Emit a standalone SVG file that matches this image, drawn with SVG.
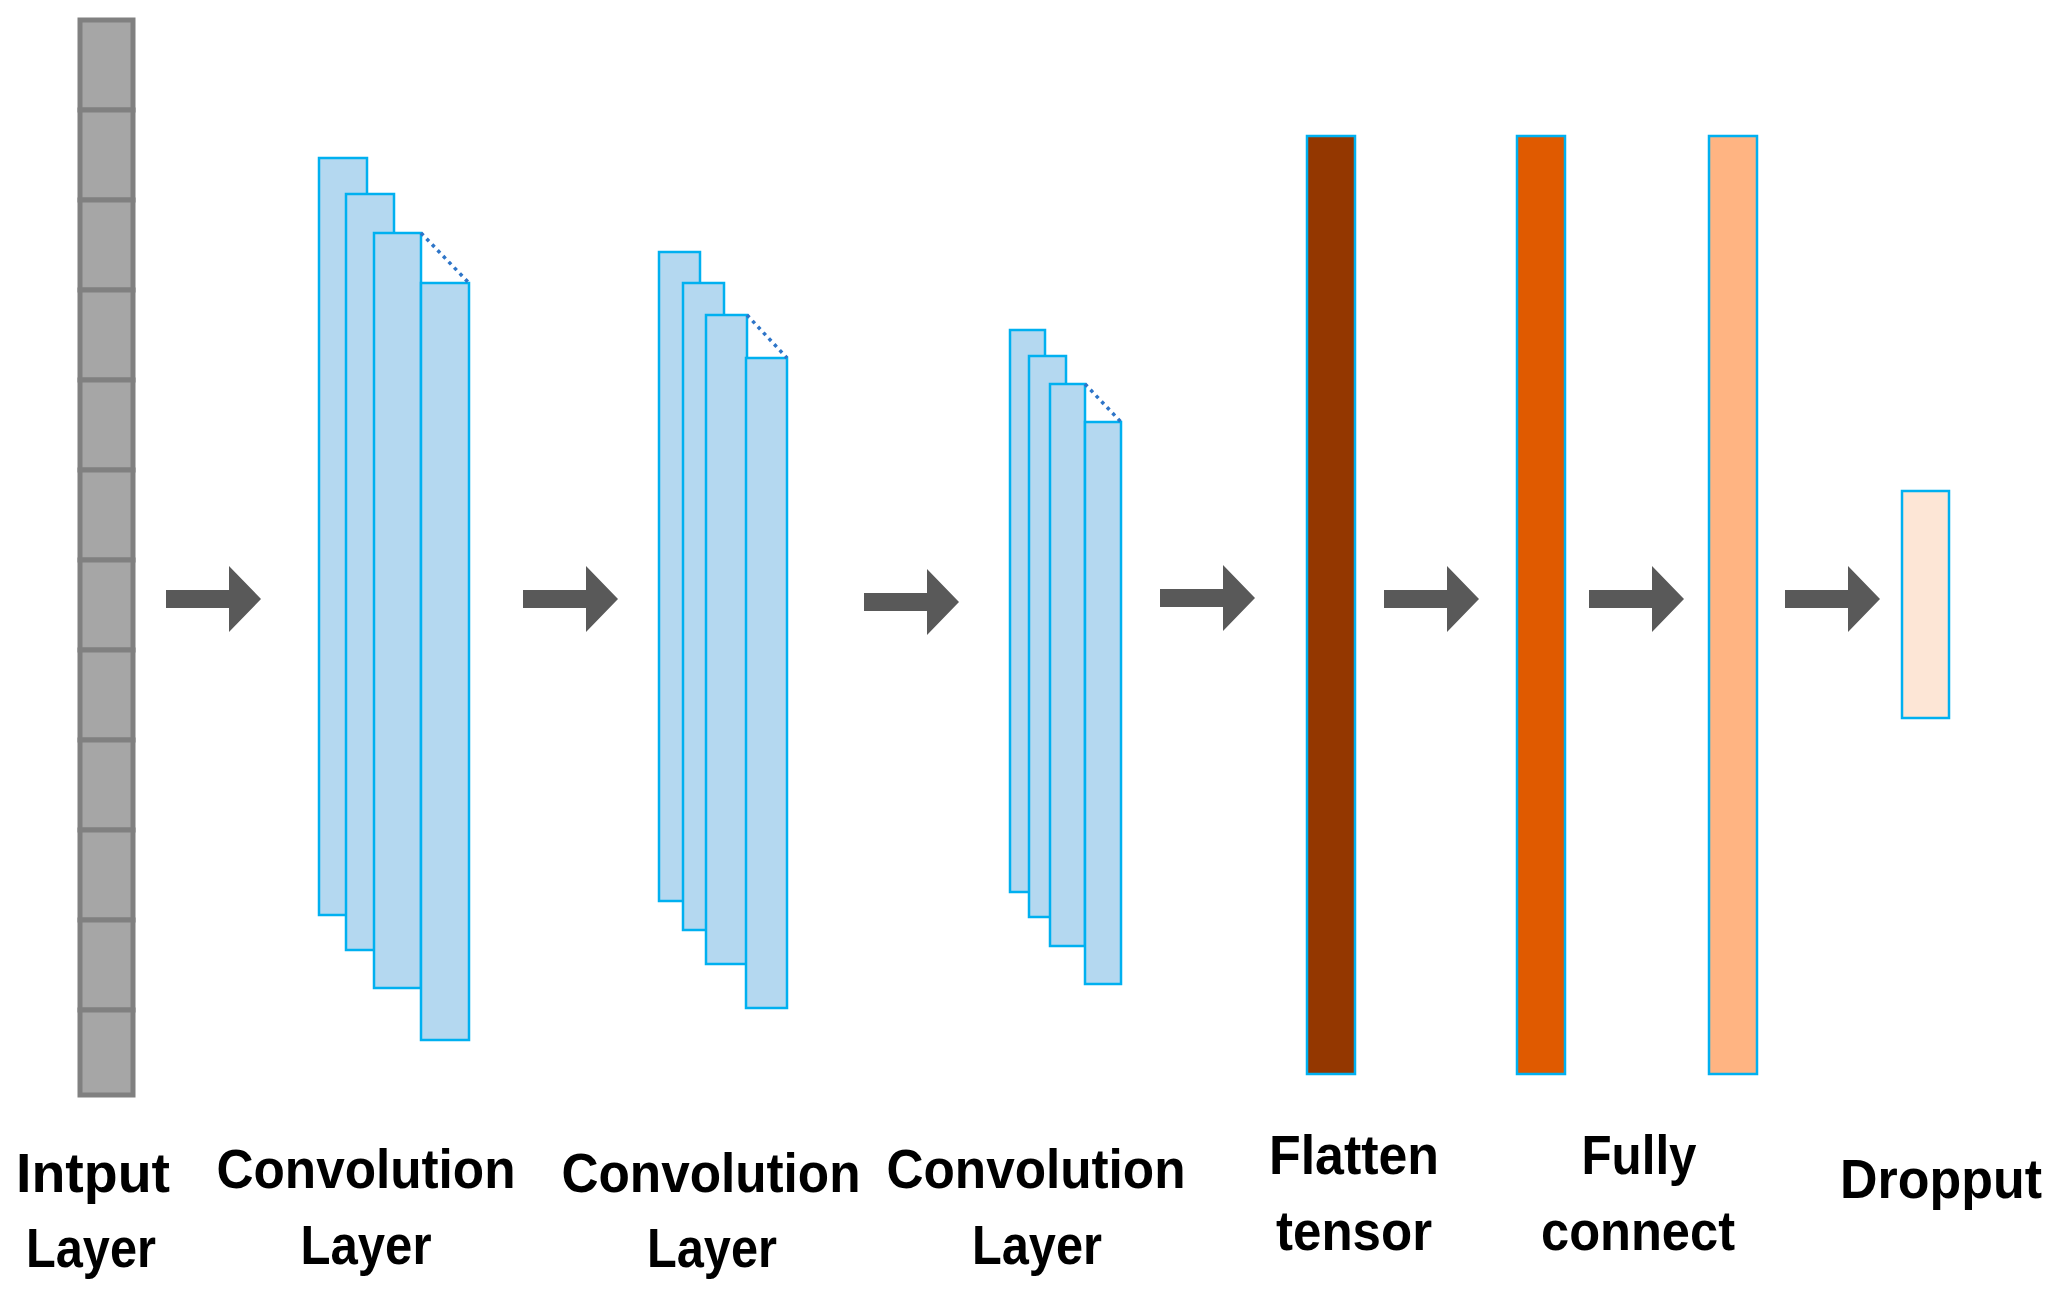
<svg xmlns="http://www.w3.org/2000/svg" width="2055" height="1295" viewBox="0 0 2055 1295">
<defs>
<style>
.cell{fill:#a6a6a6;stroke:#808080;stroke-width:5}
.fm{fill:#b4d8f0;stroke:#00b0f0;stroke-width:2.5}
.dot{stroke:#2e75c8;stroke-width:3.5;stroke-dasharray:3.5 4.5;fill:none}
.bar{stroke:#00b0f0;stroke-width:2.5}
.arr{fill:#595959}
text{font-family:"Liberation Sans",Arial,sans-serif;font-weight:bold;font-size:55px;fill:#000}
</style>
<path id="ar" d="M0,-9 H63 V-33 L95,0 L63,33 V9 H0 Z"/>
</defs>
<rect width="2055" height="1295" fill="#fff"/>
<g id="input">
<g class="cell">
<rect x="80" y="20" width="53" height="90"/><rect x="80" y="110" width="53" height="90"/><rect x="80" y="200" width="53" height="90"/><rect x="80" y="290" width="53" height="90"/><rect x="80" y="380" width="53" height="90"/><rect x="80" y="470" width="53" height="90"/><rect x="80" y="560" width="53" height="90"/><rect x="80" y="650" width="53" height="90"/><rect x="80" y="740" width="53" height="90"/><rect x="80" y="830" width="53" height="90"/><rect x="80" y="920" width="53" height="90"/><rect x="80" y="1010" width="53" height="85"/>
</g>
<text x="93" y="1192" text-anchor="middle" textLength="154" lengthAdjust="spacingAndGlyphs">Intput</text>
<text x="91" y="1267" text-anchor="middle" textLength="130" lengthAdjust="spacingAndGlyphs">Layer</text>
</g>
<g id="conv1">
<rect class="fm" x="319" y="158" width="48" height="757"/>
<rect class="fm" x="346" y="194" width="48" height="756"/>
<rect class="fm" x="374" y="233" width="47" height="755"/>
<rect class="fm" x="421" y="283" width="48" height="757"/>
<line class="dot" x1="421" y1="233" x2="469" y2="283"/>
<text x="366" y="1188" text-anchor="middle" textLength="299" lengthAdjust="spacingAndGlyphs">Convolution</text>
<text x="366" y="1264" text-anchor="middle" textLength="131" lengthAdjust="spacingAndGlyphs">Layer</text>
</g>
<g id="conv2">
<rect class="fm" x="659" y="252" width="41" height="649"/>
<rect class="fm" x="683" y="283" width="41" height="647"/>
<rect class="fm" x="706" y="315" width="41" height="649"/>
<rect class="fm" x="746" y="358" width="41" height="650"/>
<line class="dot" x1="747" y1="315" x2="787" y2="358"/>
<text x="711" y="1192" text-anchor="middle" textLength="299" lengthAdjust="spacingAndGlyphs">Convolution</text>
<text x="712" y="1267" text-anchor="middle" textLength="130" lengthAdjust="spacingAndGlyphs">Layer</text>
</g>
<g id="conv3">
<rect class="fm" x="1010" y="330" width="35" height="562"/>
<rect class="fm" x="1029" y="356" width="37" height="561"/>
<rect class="fm" x="1050" y="384" width="35" height="562"/>
<rect class="fm" x="1085" y="422" width="36" height="562"/>
<line class="dot" x1="1085" y1="384" x2="1121" y2="422"/>
<text x="1036" y="1188" text-anchor="middle" textLength="299" lengthAdjust="spacingAndGlyphs">Convolution</text>
<text x="1037" y="1264" text-anchor="middle" textLength="130" lengthAdjust="spacingAndGlyphs">Layer</text>
</g>
<g id="flatten">
<rect class="bar" x="1307" y="136" width="48" height="938" fill="#943700"/>
<text x="1354" y="1174" text-anchor="middle" textLength="170" lengthAdjust="spacingAndGlyphs">Flatten</text>
<text x="1354" y="1250" text-anchor="middle" textLength="156" lengthAdjust="spacingAndGlyphs">tensor</text>
</g>
<g id="fc1">
<rect class="bar" x="1517" y="136" width="48" height="938" fill="#e05a00"/>
<text x="1639" y="1174" text-anchor="middle" textLength="115" lengthAdjust="spacingAndGlyphs">Fully</text>
<text x="1638" y="1250" text-anchor="middle" textLength="194" lengthAdjust="spacingAndGlyphs">connect</text>
</g>
<g id="fc2">
<rect class="bar" x="1709" y="136" width="48" height="938" fill="#ffb482"/>
</g>
<g id="dropout">
<rect class="bar" x="1902" y="491" width="47" height="227" fill="#fde6d6"/>
<text x="1941" y="1198" text-anchor="middle" textLength="202" lengthAdjust="spacingAndGlyphs">Dropput</text>
</g>
<g id="connectors" class="arr">
<use href="#ar" x="166" y="599"/>
<use href="#ar" x="523" y="599"/>
<use href="#ar" x="864" y="602"/>
<use href="#ar" x="1160" y="598"/>
<use href="#ar" x="1384" y="599"/>
<use href="#ar" x="1589" y="599"/>
<use href="#ar" x="1785" y="599"/>
</g>
</svg>
